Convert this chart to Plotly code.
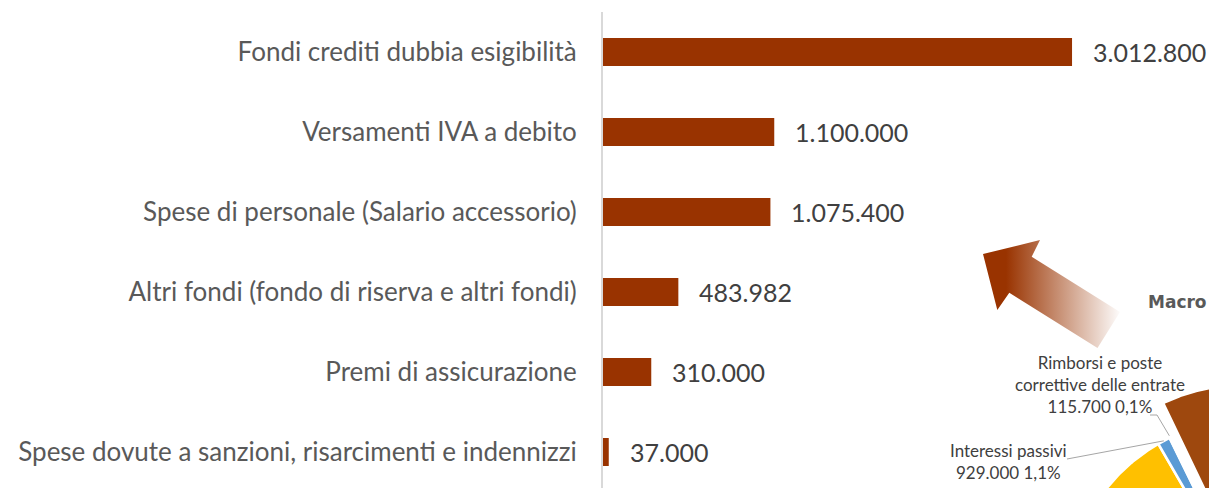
import math
import plotly.graph_objects as go

# ---------------- data ----------------
categories = [
    "Fondi crediti dubbia esigibilità",
    "Versamenti IVA a debito",
    "Spese di personale (Salario accessorio)",
    "Altri fondi (fondo di riserva e altri fondi)",
    "Premi di assicurazione",
    "Spese dovute a sanzioni, risarcimenti e indennizzi",
]
values = [3012800, 1100000, 1075400, 483982, 310000, 37000]

pie_labels = ["Altri macroaggregati", "Interessi passivi",
              "Rimborsi e poste correttive delle entrate", "Altre spese correnti"]
pie_values = [12000000, 929000, 115700, 6019182]
pie_total = 84500000  # estimated total of all macroaggregati
pie_colors = ["#FFC000", "#5B9BD5", "#636363", "#9E480E"]
pie_title = "Macro"

# ---------------- helpers ----------------
def it_num(v):
    return f"{v:,}".replace(",", ".")

def it_pct(v):
    return f"{v / pie_total * 100:.1f}".replace(".", ",") + "%"

BAR = "#993300"
GRAY_TXT = "#595959"
DARK_TXT = "#404040"
FONT = "Lato"

fig = go.Figure()

fig.add_trace(go.Bar(
    x=values, y=categories, orientation="h",
    marker=dict(color=BAR, line=dict(width=0)),
    width=0.35, hoverinfo="skip",
))

# ---------------- pie fragment (pixel-space overlay axes) ----------------
cx, cy, R = 1251, 604, 185
pull_px = 35

def wedge(a0, a1, ccx, ccy, r, n=80):
    xs, ys = [ccx], [ccy]
    for i in range(n + 1):
        a = math.radians(a0 + (a1 - a0) * i / n)
        xs.append(ccx + r * math.sin(a))
        ys.append(ccy - r * math.cos(a))
    xs.append(ccx)
    ys.append(ccy)
    return xs, ys

# angles measured clockwise from 12 o'clock; last slice ends at 12 o'clock
angles = [v / pie_total * 360 for v in pie_values]
end = 0.0
spans = [None] * len(angles)
for i in range(len(angles) - 1, -1, -1):
    spans[i] = (end - angles[i], end)
    end -= angles[i]

mids = {}
for i, (a0, a1) in enumerate(spans):
    mid = (a0 + a1) / 2
    mids[i] = mid
    ox, oy = cx, cy
    if i == len(spans) - 1:
        ox = cx + pull_px * math.sin(math.radians(mid))
        oy = cy - pull_px * math.cos(math.radians(mid))
    xs, ys = wedge(a0, a1, ox, oy, R)
    fig.add_trace(go.Scatter(
        x=xs, y=ys, xaxis="x2", yaxis="y2", mode="lines", fill="toself",
        fillcolor=pie_colors[i], line=dict(color="white", width=2.5),
        hoverinfo="skip", name=pie_labels[i],
    ))

# leader lines from slice bisectors
def edge_pt(i, r):
    a = math.radians(mids[i])
    return cx + r * math.sin(a), cy - r * math.cos(a)

bx, by = edge_pt(1, R)
fig.add_trace(go.Scatter(x=[1067, bx], y=[459, by], xaxis="x2", yaxis="y2",
                         mode="lines", line=dict(color="#A6A6A6", width=1),
                         hoverinfo="skip"))
rx, ry = edge_pt(2, R + 2)
fig.add_trace(go.Scatter(x=[1150, 1157, rx], y=[415, 415, ry], xaxis="x2", yaxis="y2",
                         mode="lines", line=dict(color="#A6A6A6", width=1),
                         hoverinfo="skip"))

# gradient arrow
arrow_x = [983, 1040, 1031.7, 1120, 1097.5, 1009.3, 997.3, 983]
arrow_y = [254, 240, 256.7, 312, 348, 292.7, 310, 254]
fig.add_trace(go.Scatter(
    x=arrow_x, y=arrow_y, xaxis="x2", yaxis="y2", mode="lines", fill="toself",
    line=dict(width=0, color="rgba(0,0,0,0)"),
    fillgradient=dict(type="horizontal", start=1006, stop=1122,
                      colorscale=[[0, "rgba(153,51,0,1)"],
                                  [1, "rgba(153,51,0,0)"]]),
    hoverinfo="skip",
))

# ---------------- annotations ----------------
ann = []
for c, v in zip(categories, values):
    ann.append(dict(x=v, y=c, xref="x", yref="y", text=it_num(v), showarrow=False,
                    xanchor="left", xshift=19,
                    font=dict(family=FONT, size=25, color=DARK_TXT)))

ann.append(dict(x=1100, y=384, xref="x2", yref="y2",
                text=f"Rimborsi e poste<br>correttive delle entrate<br>{it_num(pie_values[2])} {it_pct(pie_values[2])}",
                showarrow=False, xanchor="center", yanchor="middle", align="center",
                font=dict(family=FONT, size=17, color=DARK_TXT)))
ann.append(dict(x=1008, y=461, xref="x2", yref="y2",
                text=f"{pie_labels[1]}<br>{it_num(pie_values[1])} {it_pct(pie_values[1])}",
                showarrow=False, xanchor="center", yanchor="middle", align="center",
                font=dict(family=FONT, size=17, color=DARK_TXT)))
ann.append(dict(x=1146, y=302, xref="x2", yref="y2", text=f"<b>{pie_title}</b>",
                showarrow=False, xanchor="left", yanchor="middle",
                font=dict(family="DejaVu Sans", size=17, color=GRAY_TXT)))

fig.update_layout(
    width=1209, height=488,
    margin=dict(l=603, r=0, t=12, b=0),
    paper_bgcolor="white", plot_bgcolor="white",
    showlegend=False,
    annotations=ann,
    xaxis=dict(range=[0, max(values) * 1.292], showgrid=False, zeroline=False,
               showticklabels=False, showline=False, fixedrange=True),
    yaxis=dict(type="category", range=[5.45, -0.5], showgrid=False, zeroline=False,
               showline=True, linecolor="#D9D9D9", linewidth=2, ticks="",
               ticklabelstandoff=19,
               tickfont=dict(family=FONT, size=26, color=GRAY_TXT)),
    xaxis2=dict(overlaying="x", anchor="y2", range=[603, 1209], visible=False),
    yaxis2=dict(overlaying="y", anchor="x2", range=[488, 12], visible=False),
)

fig.write_html("out.html", config={"displayModeBar": False},
               post_script="document.body.style.margin='0px';document.body.style.padding='0px';")
